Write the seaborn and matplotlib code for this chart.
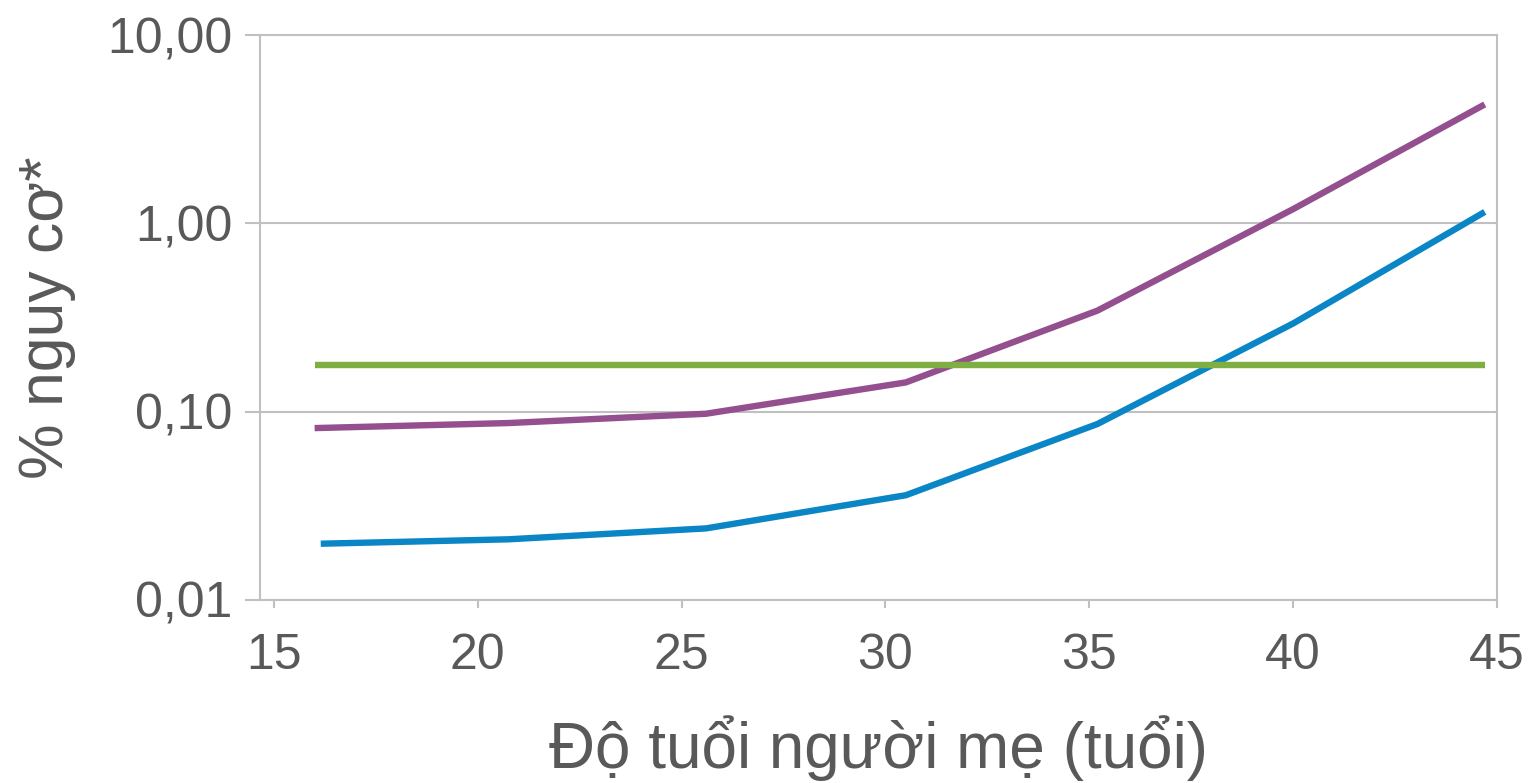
import matplotlib
matplotlib.use("Agg")
import matplotlib.pyplot as plt
import matplotlib.ticker as mticker
import seaborn as sns
import pandas as pd

# Maternal age (years) at each plotted point
age_a = [16.0, 20.75, 25.6, 30.5, 35.2, 40.0, 44.7]
age_b = [16.15, 20.75, 25.6, 30.5, 35.2, 40.0, 44.7]
age_flat = [16.0, 44.7]

# Risk (%) per series
risk_purple = [0.0818, 0.087, 0.0975, 0.143, 0.344, 1.19, 4.28]
risk_blue = [0.0199, 0.021, 0.024, 0.036, 0.086, 0.294, 1.15]
risk_green = [0.178, 0.178]

series_names = ["purple", "blue", "green"]
series_colors = ["#944F8F", "#0A86C6", "#7FAF42"]

x_ticks = [15, 20, 25, 30, 35, 40, 45]
y_ticks = [0.01, 0.1, 1, 10]
y_tick_labels = ["0,01", "0,10", "1,00", "10,00"]

x_label = "Độ tuổi người mẹ (tuổi)"
y_label = "% nguy cơ*"

df = pd.concat([
    pd.DataFrame({"age": age_a, "risk": risk_purple, "series": series_names[0]}),
    pd.DataFrame({"age": age_b, "risk": risk_blue, "series": series_names[1]}),
    pd.DataFrame({"age": age_flat, "risk": risk_green, "series": series_names[2]}),
], ignore_index=True)

sns.set_theme(style="white")
plt.rcParams["font.family"] = ["Liberation Sans", "DejaVu Sans"]

grey_text = "#595959"
grey_line = "#C0C0C0"

fig = plt.figure(figsize=(15.31, 7.83), dpi=100)
ax = fig.add_axes([260 / 1531, 1 - 600 / 783, (1497 - 260) / 1531, (600 - 35) / 783])

sns.lineplot(data=df, x="age", y="risk", hue="series",
             palette=dict(zip(series_names, series_colors)),
             linewidth=4.6, legend=False, ax=ax, sort=False,
             estimator=None)
for line in ax.get_lines():
    line.set_solid_capstyle("butt")
    line.set_solid_joinstyle("miter")

ax.set_yscale("log")
ax.set_ylim(0.01, 10)
ax.set_xlim(14.66, 45)

ax.set_xticks(x_ticks)
ax.set_xticklabels([str(t) for t in x_ticks])
ax.set_yticks(y_ticks)
ax.set_yticklabels(y_tick_labels)
ax.yaxis.set_minor_locator(mticker.NullLocator())
ax.xaxis.set_minor_locator(mticker.NullLocator())

ax.grid(axis="y", color=grey_line, linewidth=1.5)
ax.grid(axis="x", visible=False)
ax.set_axisbelow(True)

for side in ["left", "right", "top", "bottom"]:
    ax.spines[side].set_visible(True)
    ax.spines[side].set_color(grey_line)
    ax.spines[side].set_linewidth(1.5)

ax.tick_params(axis="y", direction="out", length=11, width=1.5, color=grey_line,
               labelsize=36, labelcolor=grey_text, pad=9, left=True)
ax.tick_params(axis="x", direction="out", length=6, width=1.5, color=grey_line,
               labelsize=36, labelcolor=grey_text, pad=18, bottom=True)

ax.set_xlabel(x_label, fontsize=46, color=grey_text, labelpad=26)
ax.set_ylabel(y_label, fontsize=45, color=grey_text, labelpad=22)

fig.savefig("out.png", dpi=100, facecolor="white")
